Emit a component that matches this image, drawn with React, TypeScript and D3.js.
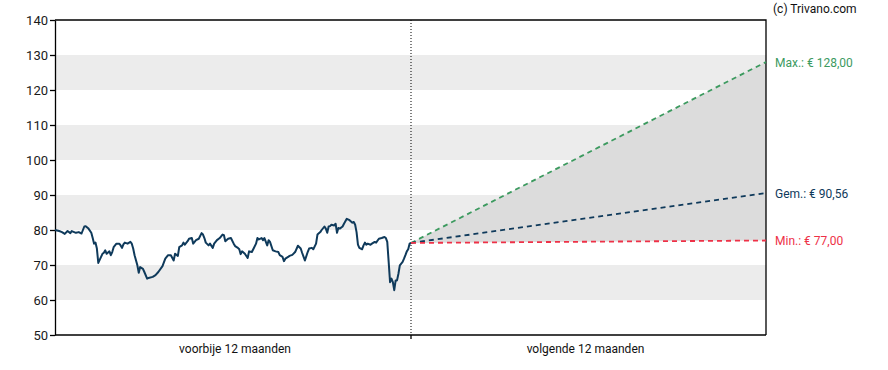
import React, { useEffect, useRef } from 'react'
import * as d3 from 'd3'

const W = 888
const H = 370
const margin = { left: 55, top: 20, right: 122, bottom: 35 }

const yTicks = [50, 60, 70, 80, 90, 100, 110, 120, 130, 140]
const bands = [[60, 70], [80, 90], [100, 110], [120, 130]]
const periodLabels = ['voorbije 12 maanden', 'volgende 12 maanden']

// trading days over the past 12 months and the closing price
const pastDays = [
  0, 3, 5, 7, 9, 11, 12, 15, 17, 19, 21, 22, 24, 26, 27, 28, 29, 30, 31, 33,
  34, 35, 36, 37, 39, 40, 41, 42, 44, 46, 47, 48, 49, 50, 52, 54, 55, 56, 57, 59,
  60, 61, 63, 64, 66, 67, 70, 72, 74, 77, 79, 81, 83, 85, 86, 88, 89, 91, 92, 93,
  95, 96, 98, 99, 101, 103, 105, 106, 107, 108, 110, 111, 113, 114, 116, 118, 120, 121, 122, 124,
  126, 128, 129, 131, 132, 133, 134, 136, 138, 139, 141, 142, 144, 145, 146, 148, 149, 150, 152, 153,
  154, 156, 158, 160, 161, 163, 164, 165, 167, 168, 170, 172, 174, 176, 177, 179, 181, 182, 184, 185,
  187, 188, 190, 191, 193, 194, 195, 196, 197, 198, 200, 201, 202, 203, 204, 206, 207, 208, 209, 211,
  213, 214, 215, 216, 217, 218, 220, 221, 222, 223, 224, 226, 227, 229, 230, 232, 234, 236, 237, 238,
  239, 240, 241, 242, 243, 244, 245, 246, 247, 249, 250, 251, 252, 253, 254, 255,
]
const pastPrices = [
  80.0, 79.7, 79.4, 78.9, 79.7, 79.1, 79.7, 79.2, 79.4, 79.0, 81.0, 81.1, 80.4, 79.2, 77.7, 76.1, 76.4, 74.7, 70.6, 72.3,
  73.2, 73.5, 74.2, 73.2, 73.9, 72.8, 73.7, 75.1, 76.1, 76.1, 75.6, 74.9, 75.9, 76.4, 76.1, 76.6, 76.1, 74.7, 72.8, 69.9,
  67.8, 69.4, 68.9, 68.0, 66.1, 66.3, 66.6, 67.1, 68.0, 69.7, 71.8, 72.8, 72.8, 71.3, 73.2, 72.6, 75.1, 75.6, 76.4, 75.8,
  76.8, 77.5, 77.7, 76.1, 77.1, 77.5, 79.1, 78.7, 77.7, 76.4, 75.6, 76.1, 74.9, 76.1, 77.1, 77.7, 78.7, 78.5, 76.8, 77.5,
  77.7, 76.1, 75.4, 74.9, 74.5, 73.1, 73.9, 73.2, 72.0, 73.9, 73.7, 74.5, 76.1, 77.7, 77.3, 77.7, 77.1, 77.7, 75.6, 77.1,
  76.6, 74.2, 73.9, 73.7, 72.8, 72.3, 71.1, 71.8, 72.3, 72.6, 72.9, 73.7, 75.5, 74.7, 73.5, 71.3, 73.7, 74.7, 74.9, 74.5,
  76.1, 78.7, 79.4, 80.0, 81.0, 80.4, 79.2, 81.0, 81.1, 81.5, 81.3, 81.8, 79.2, 80.6, 80.4, 81.0, 81.8, 82.5, 83.2, 82.8,
  82.1, 82.3, 81.5, 79.4, 75.8, 74.9, 74.5, 75.6, 76.4, 75.8, 76.1, 75.8, 76.1, 76.6, 76.4, 77.5, 77.7, 78.0, 77.7, 76.6,
  70.9, 65.1, 66.1, 65.1, 62.8, 65.6, 65.6, 67.5, 69.9, 70.9, 71.8, 72.8, 73.9, 74.5, 76.1, 76.3,
]

// forecast for the next 12 months
const lastPrice = 76.3
const forecastNames = ['Max.', 'Gem.', 'Min.']
const forecastValues = [128.0, 90.56, 77.0]
const forecastColors = ['#3c9a5f', '#0f3a5b', '#ee3147']

export default function App() {
  const ref = useRef<SVGSVGElement>(null)

  useEffect(() => {
    const svg = d3.select(ref.current)
    svg.selectAll('*').remove()

    const x0 = margin.left
    const x2 = W - margin.right
    const xMid = (x0 + x2) / 2 + 0.5

    const y = d3.scaleLinear().domain([50, 140]).range([H - margin.bottom, margin.top])
    const xPast = d3.scaleLinear().domain([0, 255]).range([x0, xMid])
    const xFut = d3.scaleLinear().domain([0, 1]).range([xMid, x2])

    // bands
    svg.append('g').selectAll('rect').data(bands).enter().append('rect')
      .attr('x', x0).attr('width', x2 - x0)
      .attr('y', d => y(d[1])).attr('height', d => y(d[0]) - y(d[1]))
      .attr('fill', '#ececec')

    // forecast area (between max and min)
    const area = d3.area<number>()
      .x(t => xFut(t))
      .y0(t => y(lastPrice + (forecastValues[2] - lastPrice) * t))
      .y1(t => y(lastPrice + (forecastValues[0] - lastPrice) * t))
    svg.append('path').datum([0, 1]).attr('d', area).attr('fill', '#dcdcdc')

    // divider
    svg.append('line')
      .attr('x1', xMid).attr('x2', xMid)
      .attr('y1', margin.top).attr('y2', H - margin.bottom)
      .attr('stroke', '#000').attr('stroke-width', 1).attr('stroke-dasharray', '1,2')

    // frame
    svg.append('path')
      .attr('d', `M${x0},${margin.top}H${x2}V${H - margin.bottom}`)
      .attr('fill', 'none').attr('stroke', '#000').attr('stroke-width', 1.3)

    // y axis
    const yAxis = svg.append('g').attr('transform', `translate(${x0},0)`)
      .call(d3.axisLeft(y).tickValues(yTicks).tickSize(5).tickSizeOuter(0))
    yAxis.select('.domain').attr('stroke', '#000').attr('stroke-width', 1.3)
    yAxis.selectAll('.tick line').attr('stroke', '#000').attr('stroke-width', 1.3)
    yAxis.selectAll('.tick text')
      .attr('font-family', 'Roboto, sans-serif').attr('font-size', 13).attr('fill', '#1a1a1a')
      .attr('x', -7)

    // x axis
    svg.append('line')
      .attr('x1', x0).attr('x2', x2)
      .attr('y1', H - margin.bottom).attr('y2', H - margin.bottom)
      .attr('stroke', '#000').attr('stroke-width', 1.3)
    svg.append('line')
      .attr('x1', xMid).attr('x2', xMid)
      .attr('y1', H - margin.bottom).attr('y2', H - margin.bottom + 4)
      .attr('stroke', '#000').attr('stroke-width', 1.3)
    svg.append('g').selectAll('text').data(periodLabels).enter().append('text')
      .attr('x', (_, i) => (i === 0 ? (x0 + xMid) / 2 + 2 : (xMid + x2) / 2 - 3))
      .attr('y', H - margin.bottom + 18)
      .attr('text-anchor', 'middle')
      .attr('font-family', 'Roboto, sans-serif').attr('font-size', 12).attr('fill', '#111')
      .text(d => d)

    // price line
    const line = d3.line<number>()
      .x((_, i) => xPast(pastDays[i]))
      .y(d => y(d))
    svg.append('path').datum(pastPrices).attr('d', line)
      .attr('fill', 'none').attr('stroke', '#0f3a5b').attr('stroke-width', 2)
      .attr('stroke-linejoin', 'round')

    // forecast lines and labels
    forecastValues.forEach((v, i) => {
      svg.append('line')
        .attr('x1', xFut(0)).attr('y1', y(lastPrice))
        .attr('x2', xFut(1)).attr('y2', y(v))
        .attr('stroke', forecastColors[i]).attr('stroke-width', 1.8)
        .attr('stroke-dasharray', '5,4')
      svg.append('text')
        .attr('x', x2 + 9).attr('y', y(v) + 4.5)
        .attr('font-family', 'Roboto, sans-serif').attr('font-size', 12)
        .attr('fill', forecastColors[i])
        .text(`${forecastNames[i]}: € ${d3.format('.2f')(v).replace('.', ',')}`)
    })

    svg.append('text')
      .attr('x', 773).attr('y', 13)
      .attr('font-family', 'Roboto, sans-serif').attr('font-size', 12).attr('fill', '#111')
      .text('(c) Trivano.com')
  }, [])

  return (
    <svg ref={ref} width={W} height={H} style={{ position: 'absolute', left: 0, top: 0, background: '#fff' }} />
  )
}
